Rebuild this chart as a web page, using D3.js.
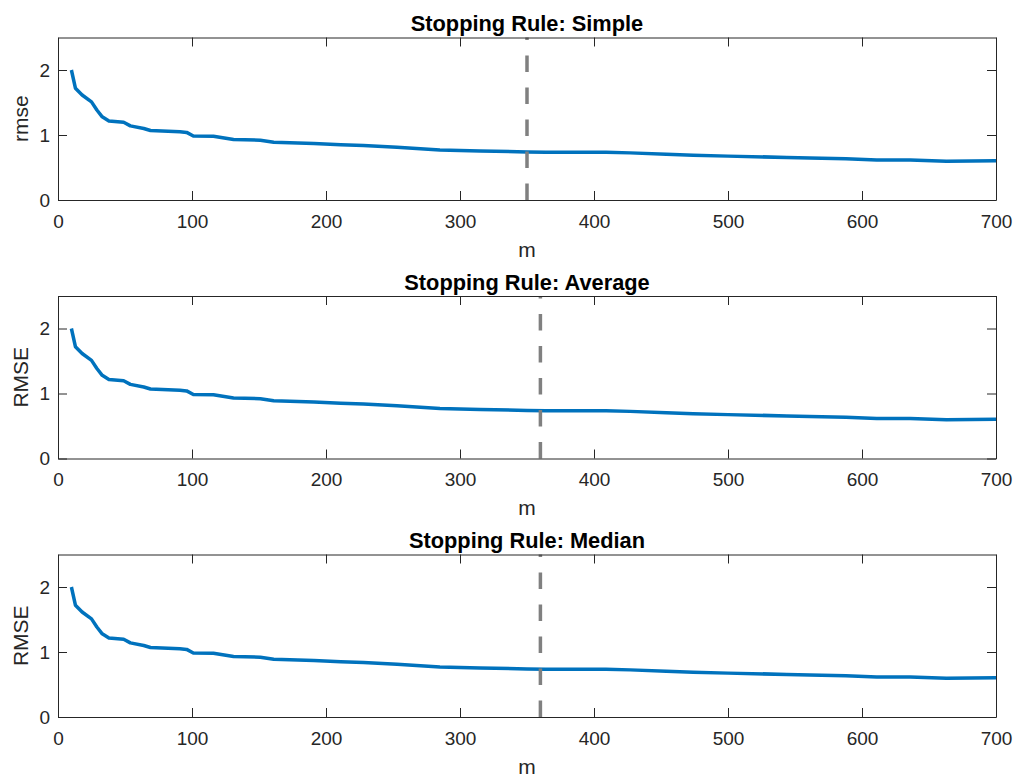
<!DOCTYPE html>
<html>
<head>
<meta charset="utf-8">
<script src="https://cdn.jsdelivr.net/npm/d3@7"></script>
<style>
  html, body { margin: 0; padding: 0; background: #fff; }
  svg { display: block; font-family: "Liberation Sans", Arial, Helvetica, sans-serif; }
  .tick text { fill: #262626; font-size: 19px; }
  .tick line, .domain { stroke: #262626; stroke-width: 1; }
</style>
</head>
<body>
<svg id="chart" width="1014" height="776"></svg>
<script>
// Sample size m and the resulting RMSE curve
const mValues = [10, 13, 18, 25, 29, 33, 38, 49, 54, 64, 69, 91, 96, 101, 116, 131, 151, 161,
  191, 211, 228, 253, 285, 315, 350, 364, 409, 427, 454, 474, 500, 544, 561, 588, 611, 636,
  663, 700];
const rmseValues = [2.00, 1.72, 1.615, 1.51, 1.385, 1.28, 1.215, 1.195, 1.14, 1.10, 1.07, 1.05,
  1.04, 0.985, 0.98, 0.93, 0.92, 0.89, 0.87, 0.85, 0.84, 0.81, 0.77, 0.755, 0.74, 0.735, 0.735,
  0.725, 0.705, 0.69, 0.675, 0.655, 0.645, 0.635, 0.615, 0.615, 0.595, 0.605];

// One panel per stopping rule
const panelTitles = ["Stopping Rule: Simple", "Stopping Rule: Average", "Stopping Rule: Median"];
const panelYLabels = ["rmse", "RMSE", "RMSE"];
const stopPoints = [350, 360, 360];

const xTicks = [0, 100, 200, 300, 400, 500, 600, 700];
const yTicks = [0, 1, 2];

const svg = d3.select("#chart");
const left = 58, right = 996, panelH = 162.5;
const panelTops = [37.5, 296, 554.5];
const tick = 9;
const fmt = d3.format("d");

const x = d3.scaleLinear().domain([0, 700]).range([left, right]);
const data = mValues.map((m, i) => ({ m, v: rmseValues[i] }));

panelTitles.forEach((title, p) => {
  const top = panelTops[p], bottom = top + panelH;
  const y = d3.scaleLinear().domain([0, 2.5]).range([bottom, top]);
  const g = svg.append("g");

  // curve
  g.append("path")
    .datum(data)
    .attr("fill", "none")
    .attr("stroke", "#0072BD")
    .attr("stroke-width", 3.5)
    .attr("stroke-linejoin", "round")
    .attr("d", d3.line().x(d => x(d.m)).y(d => y(d.v)));

  // stopping point marker
  g.append("line")
    .attr("x1", x(stopPoints[p])).attr("x2", x(stopPoints[p]))
    .attr("y1", bottom).attr("y2", top)
    .attr("stroke", "#808080")
    .attr("stroke-width", 3.5)
    .attr("stroke-dasharray", "16.5 15.5");

  // axes (box with inward ticks)
  g.append("g").attr("transform", `translate(0,${bottom})`)
    .call(d3.axisBottom(x).tickValues(xTicks).tickFormat(fmt).tickSizeInner(-tick).tickSizeOuter(0).tickPadding(14.5));
  g.append("g").attr("transform", `translate(0,${top})`)
    .call(d3.axisTop(x).tickValues(xTicks).tickSizeInner(-tick).tickSizeOuter(0).tickFormat(""));
  g.append("g").attr("transform", `translate(${left},0)`)
    .call(d3.axisLeft(y).tickValues(yTicks).tickFormat(fmt).tickSizeInner(-tick).tickSizeOuter(0).tickPadding(8));
  g.append("g").attr("transform", `translate(${right},0)`)
    .call(d3.axisRight(y).tickValues(yTicks).tickSizeInner(-tick).tickSizeOuter(0).tickFormat(""));
  g.selectAll(".tick text").attr("font-size", null).attr("font-family", null);
  g.selectAll(".domain, .tick line").attr("stroke", "#262626");

  // title
  g.append("text")
    .attr("x", (left + right) / 2).attr("y", top - 6.5)
    .attr("text-anchor", "middle")
    .attr("font-size", 21.8).attr("font-weight", "bold").attr("fill", "#000")
    .text(title);

  // x label
  g.append("text")
    .attr("x", (left + right) / 2).attr("y", bottom + 56.5)
    .attr("text-anchor", "middle")
    .attr("font-size", 21).attr("fill", "#262626")
    .text("m");

  // y label
  g.append("text")
    .attr("transform", `translate(28.3,${(top + bottom) / 2}) rotate(-90)`)
    .attr("text-anchor", "middle")
    .attr("font-size", 21).attr("fill", "#262626")
    .text(panelYLabels[p]);
});
</script>
</body>
</html>
